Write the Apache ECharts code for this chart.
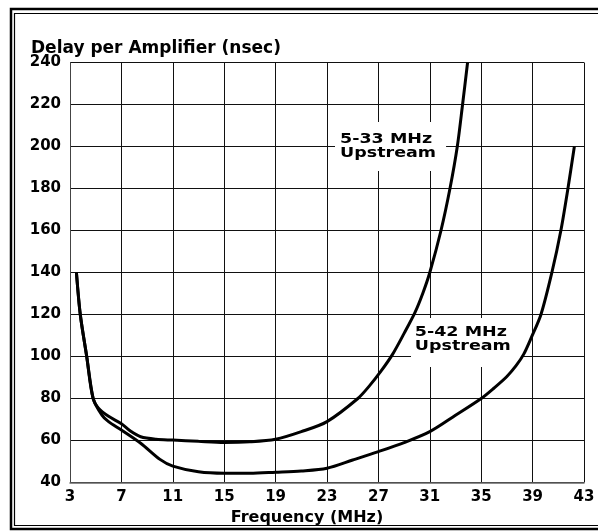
<!DOCTYPE html>
<html>
<head>
<meta charset="utf-8">
<script src="https://cdn.jsdelivr.net/npm/echarts@6/dist/echarts.min.js"></script>
<style>
  html, body { margin: 0; padding: 0; background: #fff; }
  #chart { width: 598px; height: 531px; }
</style>
</head>
<body>
<div id="chart"></div>
<script>
// x ticks (MHz) and y ticks (nsec)
const xTicks = [3, 7, 11, 15, 19, 23, 27, 31, 35, 39, 43]
const yMin = 40
const yMax = 240

// 5-33 MHz upstream curve
const freq533 = [3.5, 3.8, 4.3, 4.8, 5.2, 6, 7, 7.7, 8.5, 9.7, 11, 13, 15, 17, 19, 21, 23, 25.4, 26.3, 27.2, 28.1, 29.0, 29.85, 30.45, 31, 31.87, 32.57, 33.14, 33.55, 33.94]
const delay533 = [140, 120, 100, 80, 75.5, 71.5, 68, 64.5, 61.8, 60.6, 60.2, 59.6, 59.1, 59.4, 60.6, 64.2, 69, 80, 86, 93, 101, 111, 121, 130, 140, 160, 180, 200, 220, 240]

// 5-42 MHz upstream curve
const freq542 = [3.5, 3.8, 4.3, 4.8, 5.5, 6, 7, 8.5, 10, 11, 13, 15, 17, 19, 21, 23, 25, 27, 29, 31, 33, 35, 36, 37, 37.7, 38.3, 38.9, 39.65, 40.5, 41.2, 41.75, 42.25]
const delay542 = [140, 120, 100, 80, 72, 69, 65, 58.7, 51, 47.8, 45.1, 44.4, 44.4, 44.9, 45.5, 46.8, 50.7, 54.7, 59, 64.2, 72, 80, 85, 90.5, 95.5, 101, 109, 120, 140, 160, 180, 200]

const font = '"DejaVu Sans", sans-serif'

function pairs(xs, ys) {
  return xs.map((x, i) => [x, ys[i]])
}

const chart = echarts.init(document.getElementById('chart'))

chart.setOption({
  animation: false,
  title: {
    text: 'Delay per Amplifier (nsec)',
    left: 31,
    top: 40,
    padding: 0,
    textStyle: { fontFamily: font, fontWeight: 'bold', fontSize: 17, color: '#000' }
  },
  grid: { // plot area
    left: 70,
    right: 14,
    top: 62.5,
    bottom: 48.5
  },
  xAxis: {
    type: 'value',
    min: 3,
    max: 43,
    name: 'Frequency (MHz)',
    nameLocation: 'middle',
    nameGap: 21,
    nameTextStyle: { fontFamily: font, fontWeight: 'bold', fontSize: 16, color: '#000', padding: [0, 40, 0, 0] },
    axisLine: { show: true, lineStyle: { color: '#666', width: 1.5 } },
    axisTick: { show: false, customValues: xTicks },
    axisLabel: { customValues: xTicks, margin: 7, fontFamily: font, fontWeight: 'bold', fontSize: 15, color: '#000' },
    splitLine: { show: true, lineStyle: { color: '#111', width: 1 } }
  },
  yAxis: {
    type: 'value',
    min: yMin,
    max: yMax,
    interval: 20,
    axisLine: { show: true, lineStyle: { color: '#444', width: 1 } },
    axisTick: { show: false },
    axisLabel: { margin: 9, fontFamily: font, fontWeight: 'bold', fontSize: 15, color: '#000' },
    splitLine: { show: true, lineStyle: { color: '#111', width: 1 } }
  },
  graphic: [
    { // double frame, right side runs off the picture
      type: 'rect',
      shape: { x: 11, y: 9, width: 620, height: 520 },
      style: { fill: 'none', stroke: '#000', lineWidth: 2.5 }
    },
    {
      type: 'rect',
      shape: { x: 14.5, y: 13.5, width: 620, height: 512 },
      style: { fill: 'none', stroke: '#000', lineWidth: 1.2 }
    },
    {
      type: 'text',
      x: 335,
      y: 122,
      scaleX: 1.25,
      z: 1,
      style: {
        text: '5-33 MHz\nUpstream',
        font: 'bold 14px ' + font,
        fill: '#000',
        lineHeight: 14,
        backgroundColor: '#fff',
        padding: [10, 8, 11, 4]
      }
    },
    {
      type: 'text',
      x: 411,
      y: 318,
      scaleX: 1.25,
      z: 1,
      style: {
        text: '5-42 MHz\nUpstream',
        font: 'bold 14px ' + font,
        fill: '#000',
        lineHeight: 14,
        backgroundColor: '#fff',
        padding: [7, 9, 14, 3]
      }
    }
  ],
  series: [
    {
      name: '5-33 MHz Upstream',
      type: 'line',
      data: pairs(freq533, delay533),
      smooth: 0.3,
      showSymbol: false,
      z: 3,
      lineStyle: { color: '#000', width: 3 }
    },
    {
      name: '5-42 MHz Upstream',
      type: 'line',
      data: pairs(freq542, delay542),
      smooth: 0.3,
      showSymbol: false,
      z: 3,
      lineStyle: { color: '#000', width: 3 }
    }
  ]
})
</script>
</body>
</html>
